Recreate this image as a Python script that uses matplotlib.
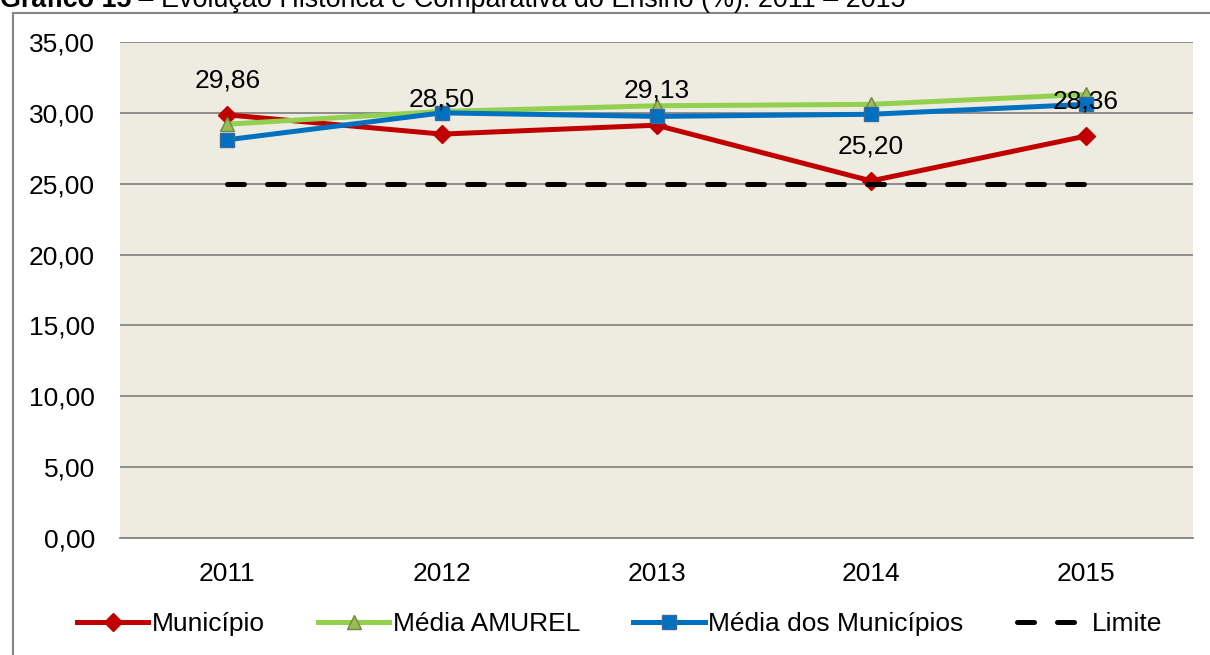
import matplotlib
matplotlib.use('Agg')
import matplotlib.pyplot as plt
from matplotlib.patches import Rectangle

plt.rcParams['font.family'] = ['Liberation Sans', 'DejaVu Sans']

# Dados
anos = ['2011', '2012', '2013', '2014', '2015']
municipio = [29.86, 28.50, 29.13, 25.20, 28.36]
media_amurel = [29.2, 30.1, 30.5, 30.6, 31.3]
media_municipios = [28.1, 30.0, 29.75, 29.9, 30.6]
limite = [25, 25, 25, 25, 25]
rotulos = ['29,86', '28,50', '29,13', '25,20', '28,36']
y_ticks = [0, 5, 10, 15, 20, 25, 30, 35]
y_labels = ['0,00', '5,00', '10,00', '15,00', '20,00', '25,00', '30,00', '35,00']

fs = 19

fig = plt.figure(figsize=(12.10, 6.55), dpi=100)
ax = fig.add_axes([120 / 1210, 1 - 538 / 655, (1193 - 120) / 1210, (538 - 42) / 655])
ax.set_facecolor('#EEEBE0')

x = list(range(len(anos)))

# borda do gráfico
fig.patches.append(Rectangle((12.5 / 1210, -0.1), 1.2, 1 - 13 / 655 + 0.1,
                             transform=fig.transFigure, fill=False,
                             edgecolor='#868686', linewidth=1.5))

ax.plot(x, municipio, color='#C00000', linewidth=3.6, marker='D', markersize=9,
        markerfacecolor='#C00000', markeredgecolor='#C00000', label='Município', zorder=3)
ax.plot(x, media_amurel, color='#92D050', linewidth=3.6, marker='^', markersize=10,
        markerfacecolor='#9BBB59', markeredgecolor='#71893F', label='Média AMUREL', zorder=4)
ax.plot(x, media_municipios, color='#0070C0', linewidth=3.6, marker='s', markersize=10.5,
        markerfacecolor='#0070C0', markeredgecolor='#3A6A9C', label='Média dos Municípios', zorder=5)
ax.plot(x, limite, color='black', linewidth=3.6, dashes=(3.4, 4.6), dash_capstyle='round',
        label='Limite', zorder=6)

for xi, v, t in zip(x, municipio, rotulos):
    ax.annotate(t, (xi, v), xytext=(0, 25), textcoords='offset points',
                ha='center', va='center', fontsize=fs, zorder=7)

ax.set_xlim(-0.5, 4.5)
ax.set_ylim(0, 35)
ax.set_xticks(x)
ax.set_xticklabels(anos)
ax.set_yticks(y_ticks)
ax.set_yticklabels(y_labels)
ax.tick_params(axis='both', length=0, labelsize=fs)
ax.tick_params(axis='y', pad=18)
ax.tick_params(axis='x', pad=17)
ax.grid(axis='y', color='#868686', linewidth=1.3)
ax.set_axisbelow(True)
for s in ['left', 'right', 'top']:
    ax.spines[s].set_visible(False)
ax.spines['bottom'].set_color('#868686')
ax.spines['bottom'].set_linewidth(1.3)

fig.legend(loc='center', bbox_to_anchor=(0.512, 1 - 624 / 655), ncol=4, frameon=False,
           fontsize=fs, handlelength=2.7, handletextpad=0.15, columnspacing=2.0)

# título (cortado no topo, como na imagem original)
r = fig.canvas.get_renderer()
t1 = fig.text(0, 1 - 7 / 655, 'Gráfico 15', fontsize=19.4, fontweight='bold', va='baseline')
bb = t1.get_window_extent(renderer=r)
fig.text(bb.x1 / 1210, 1 - 7 / 655, ' – Evolução Histórica e Comparativa do Ensino (%): 2011 – 2015',
         fontsize=19.4, va='baseline')

fig.savefig('out.png', dpi=100)
